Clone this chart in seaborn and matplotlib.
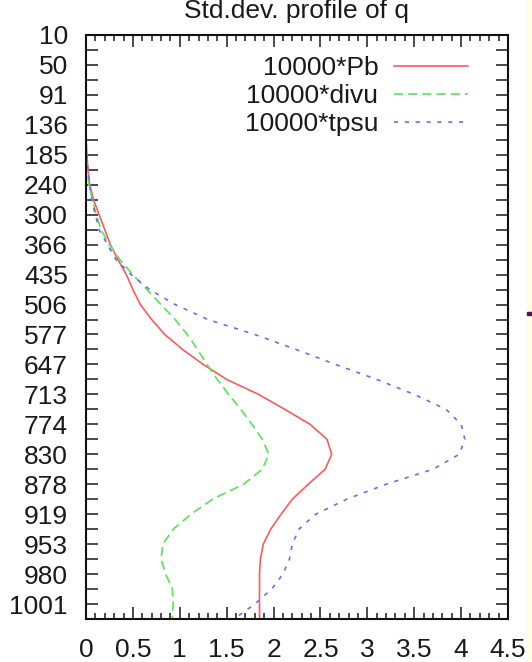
import numpy as np
import pandas as pd
import matplotlib
matplotlib.use('Agg')
import matplotlib.pyplot as plt
import seaborn as sns
from matplotlib.ticker import MultipleLocator, FormatStrFormatter
from matplotlib.patches import Rectangle

# ── Data ──────────────────────────────────────────────────────────────────────
level_labels = ['10', '50', '91', '136', '185', '240', '300', '366', '435', '506',
                '577', '647', '713', '774', '830', '878', '919', '953', '980', '1001']
levels = np.arange(40)

pb = [0, 0, 0, 0, 0, 0, 0, 0, 0.01, 0.02,
      0.04, 0.08, 0.14, 0.20, 0.26, 0.34, 0.43, 0.50, 0.58, 0.70,
      0.84, 1.03, 1.25, 1.50, 1.84, 2.12, 2.39, 2.57, 2.62, 2.55,
      2.37, 2.20, 2.08, 1.97, 1.89, 1.86, 1.85, 1.85, 1.85, 1.85]

divu = [0, 0, 0, 0, 0, 0, 0, 0, 0.005, 0.015,
        0.03, 0.07, 0.11, 0.16, 0.25, 0.36, 0.50, 0.65, 0.80, 0.95,
        1.08, 1.19, 1.29, 1.40, 1.52, 1.65, 1.77, 1.88, 1.95, 1.88,
        1.68, 1.35, 1.12, 0.93, 0.82, 0.80, 0.85, 0.92, 0.93, 0.92]

tpsu = [0, 0, 0, 0, 0, 0, 0, 0, 0.01, 0.02,
        0.04, 0.06, 0.10, 0.14, 0.23, 0.32, 0.48, 0.68, 0.95, 1.30,
        1.80, 2.24, 2.66, 3.10, 3.50, 3.84, 4.00, 4.04, 3.98, 3.70,
        3.20, 2.78, 2.45, 2.27, 2.20, 2.17, 2.10, 1.98, 1.80, 1.58]

series = [
    ('10000*Pb',   pb,   '#ff5a5a', '-'),
    ('10000*divu', divu, '#55e655', (0, (5.5, 3))),
    ('10000*tpsu', tpsu, '#6b6bff', (0, (2.5, 4))),
]

# ── Style ─────────────────────────────────────────────────────────────────────
sns.set_theme(style='white')
plt.rcParams['font.family'] = ['Liberation Sans', 'DejaVu Sans']
plt.rcParams['font.size'] = 19
plt.rcParams['text.color'] = '#1a1a1a'

fig = plt.figure(figsize=(5.32, 6.62), dpi=100)
ax = fig.add_axes([86 / 532, 43 / 662, 422 / 532, 584 / 662])

for name, vals, color, ls in series:
    df = pd.DataFrame({'level': levels, 'value': vals})
    sns.lineplot(data=df, x='value', y='level', orient='y', ax=ax,
                 color=color, linestyle=ls, lw=1.2, label=name)

ax.set_xlim(0, 4.5)
ax.set_ylim(39, 0)
ax.xaxis.set_major_locator(MultipleLocator(0.5))
ax.xaxis.set_minor_locator(MultipleLocator(0.1))
ax.xaxis.set_major_formatter(FormatStrFormatter('%g'))
ax.set_yticks(levels[::2], labels=level_labels)
ax.set_yticks(levels[1::2], minor=True)
ax.set_xlabel('')
ax.set_ylabel('')

ax.tick_params(axis='both', which='both', direction='in', colors='#1a1a1a',
               top=True, right=True, bottom=True, left=True, width=1.1,
               labelsize=19)
ax.tick_params(axis='x', which='major', length=8.5, pad=13.5)
ax.tick_params(axis='x', which='minor', length=4.5)
ax.tick_params(axis='y', which='both', length=8.5, pad=13)

for sp in ax.spines.values():
    sp.set_color('#111111')
    sp.set_linewidth(1.5)

ax.set_title('Std.dev. profile of q', fontsize=19, pad=12)

ax.legend(loc='upper right', bbox_to_anchor=(0.905, 0.964), markerfirst=False,
          frameon=False, handlelength=2.8, handletextpad=0.6, labelspacing=0.15,
          borderpad=0, borderaxespad=0, fontsize=19)

# cropped edge of the original screenshot
fig.patches.append(Rectangle((527 / 532, 0), 5 / 532, 1, transform=fig.transFigure,
                             color='#fffde6', zorder=10))
fig.patches.append(Rectangle((527 / 532, (662 - 315) / 662), 5 / 532, 3 / 662,
                             transform=fig.transFigure, color='#4a1a4a', zorder=11))

fig.savefig('out.png', dpi=100)
